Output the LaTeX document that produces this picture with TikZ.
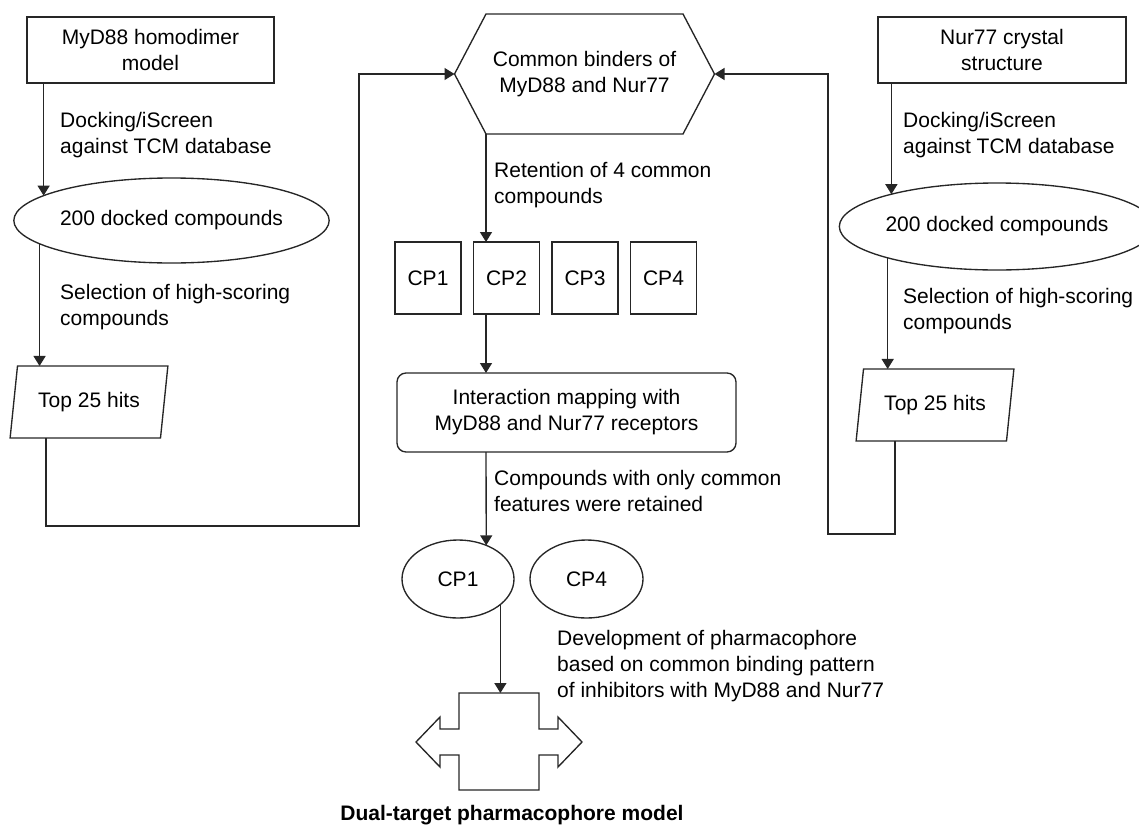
\documentclass[tikz,border=0pt]{standalone}
\usepackage{fontspec}
\setmainfont{Liberation Sans}
\usetikzlibrary{shapes.geometric,arrows.meta}
\begin{document}
\begin{tikzpicture}[x=1pt,y=-1pt,
  every node/.style={font=\fontsize{21}{26}\selectfont},
  line/.style={draw=black!85, line width=1.35pt},
  arr/.style={line, -{Triangle[length=10pt,width=12pt]}},
  boxnode/.style={draw=black!85, line width=1.35pt, rectangle, align=center, inner sep=0pt, outer sep=0pt},
  ellnode/.style={draw=black!85, line width=1.35pt, ellipse, inner sep=0pt, outer sep=0pt, align=center},
  para/.style={draw=black!85, line width=1.35pt, trapezium, trapezium left angle=75, trapezium right angle=105, trapezium stretches=true, inner sep=0pt, outer sep=0pt, minimum width=158pt, minimum height=72pt},
  lbl/.style={anchor=west, align=left, inner sep=0pt}]
\useasboundingbox (0,0) rectangle (1139,827);

% left column
\node[boxnode, minimum width=247pt, minimum height=66pt] (b1) at (150.5,50) {MyD88 homodimer\\model};
\node[ellnode, minimum width=299pt, minimum height=85pt] (e1) at (171.5,220.5) {200 docked compounds};
\node[para] (p1) at (89,402) {Top 25 hits};
\node[lbl] (t1) at (60,135) {Docking/iScreen\\against TCM database};
\node[lbl] (t2) at (60,307) {Selection of high-scoring\\compounds};

% right column
\node[boxnode, minimum width=248pt, minimum height=66pt] (b2) at (1002,50) {Nur77 crystal\\structure};
\node[ellnode, minimum width=282pt, minimum height=87pt] (e2) at (997,226.5) {200 docked compounds};
\node[para] (p2) at (935,405) {Top 25 hits};
\node[lbl] (t3) at (903,135) {Docking/iScreen\\against TCM database};
\node[lbl] (t4) at (903,311) {Selection of high-scoring\\compounds};

% hexagon
\node[inner sep=0pt, outer sep=0pt, minimum width=260pt, minimum height=120pt, align=center] (hex) at (584.5,74) {Common binders of\\MyD88 and Nur77};
\draw[line] (hex.west) -- ([xshift=31.5pt]hex.north west) -- ([xshift=-31.5pt]hex.north east) -- (hex.east) -- ([xshift=-31.5pt]hex.south east) -- ([xshift=31.5pt]hex.south west) -- cycle;
\coordinate (hexBL) at ([xshift=31.5pt]hex.south west);
\node[lbl] (t5) at (494,185) {Retention of 4 common\\compounds};

% CP boxes
\node[boxnode, minimum width=66pt, minimum height=72pt] (cp1) at (428,278) {CP1};
\node[boxnode, minimum width=66pt, minimum height=72pt] (cp2) at (506.5,278) {CP2};
\node[boxnode, minimum width=66pt, minimum height=72pt] (cp3) at (585,278) {CP3};
\node[boxnode, minimum width=66pt, minimum height=72pt] (cp4) at (663.5,278) {CP4};

% interaction mapping
\node[boxnode, rounded corners=9pt, minimum width=339pt, minimum height=79pt] (rb) at (566.5,412.5) {Interaction mapping with\\MyD88 and Nur77 receptors};
\node[lbl] (t6) at (494,491) {Compounds with only common\\features were retained};

% CP ellipses
\node[ellnode, minimum width=112pt, minimum height=78pt] (c1) at (458,579) {CP1};
\node[ellnode, minimum width=113pt, minimum height=78pt] (c4) at (586.5,579) {CP4};
\node[lbl] (t7) at (557,666) {Development of pharmacophore\\based on common binding pattern\\of inhibitors with MyD88 and Nur77};

% pharmacophore shape
\node[inner sep=0pt, outer sep=0pt, minimum width=80pt, minimum height=97pt] (ph) at (499,741.5) {};
\draw[line, shift={(ph.center)}] (-40,-48.5) -- (40,-48.5) -- (40,-12.5) -- (59,-12.5) -- (59,-24.5) -- (83,0.5) -- (59,25.5) -- (59,13.5) -- (40,13.5) -- (40,48.5) -- (-40,48.5) -- (-40,13.5) -- (-59,13.5) -- (-59,25.5) -- (-83,0.5) -- (-59,-24.5) -- (-59,-12.5) -- (-40,-12.5) -- cycle;
\node[font=\fontsize{21}{26}\selectfont\bfseries] (title) at (512,815) {Dual-target pharmacophore model};

% connectors
\draw[arr] (b1.south -| e1.169.75) -- (e1.169.75);
\draw[arr] (e1.190.25) -- (e1.190.25 |- p1.north);
\coordinate (cL1) at (46,526);
\coordinate (cL2) at (359,526);
\draw[arr] (p1.south -| cL1) -- (cL1) -- (cL2) -- (cL2 |- hex.west) -- (hex.west);

\draw[arr] (b2.south -| e2.163.6) -- (e2.163.6);
\draw[arr] (e2.196.4) -- (e2.196.4 |- p2.north);
\coordinate (cR1) at (895,534);
\coordinate (cR2) at (828,534);
\draw[arr] (p2.south -| cR1) -- (cR1) -- (cR2) -- (cR2 |- hex.east) -- (hex.east);

\draw[arr] (hexBL) -- (hexBL |- cp2.north);
\draw[arr] (cp2.south -| hexBL) -- (rb.north -| hexBL);
\draw[arr] (rb.south -| hexBL) -- (c1.50.4);
\draw[arr] (c1.329.8) -- (c1.329.8 |- ph.north);
\end{tikzpicture}
\end{document}
